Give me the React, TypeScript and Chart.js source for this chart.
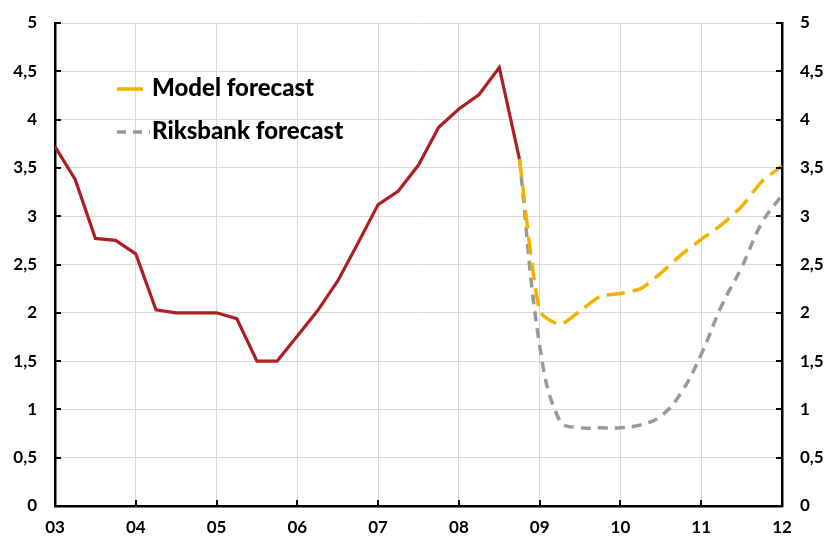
import React, { useEffect, useRef } from "react";
import { Chart, registerables } from "chart.js";

Chart.register(...registerables);

// Quarterly data, x index 0 = 2003Q1 ... 36 = 2012Q1
const xTickLabels = ["03", "04", "05", "06", "07", "08", "09", "10", "11", "12"];
const yTickLabels = ["0", "0,5", "1", "1,5", "2", "2,5", "3", "3,5", "4", "4,5", "5"];

// 2003Q1 - 2008Q4
const historyValues = [
  3.72, 3.38, 2.77, 2.75, 2.61, 2.03, 2.0, 2.0, 2.0, 1.94, 1.5, 1.5,
  1.76, 2.02, 2.33, 2.72, 3.12, 3.26, 3.53, 3.92, 4.11, 4.26, 4.54, 3.59,
];

// 2008Q4 - 2012Q1
const modelForecast = [3.59, 2.02, 1.88, 2.02, 2.17, 2.2, 2.25, 2.41, 2.6, 2.76, 2.91, 3.1, 3.36, 3.52];
const riksbankForecast = [3.59, 1.66, 0.88, 0.81, 0.81, 0.81, 0.84, 0.93, 1.17, 1.57, 2.07, 2.47, 2.93, 3.22];

const seriesNames = ["Model forecast", "Riksbank forecast"];

const RED = "#AD1F25";
const YELLOW = "#F2B200";
const GRAY = "#979A9C";
const GRID = "#D9D9D9";
const FONT = "Lato, 'Open Sans', sans-serif";

const forecastStart = historyValues.length - 1;

const insideTicksPlugin = {
  id: "insideTicks",
  afterDraw(chart: any) {
    const { ctx, chartArea } = chart;
    const y = chart.scales.y;
    const x = chart.scales.x;
    ctx.save();
    ctx.strokeStyle = "#000";
    ctx.lineWidth = 2;
    y.ticks.forEach((t: any) => {
      const py = Math.round(y.getPixelForValue(t.value));
      ctx.beginPath();
      ctx.moveTo(chartArea.left, py);
      ctx.lineTo(chartArea.left + 6, py);
      ctx.moveTo(chartArea.right, py);
      ctx.lineTo(chartArea.right - 6, py);
      ctx.stroke();
    });
    x.ticks.forEach((t: any) => {
      const px = Math.round(x.getPixelForValue(t.value));
      ctx.beginPath();
      ctx.moveTo(px, chartArea.bottom);
      ctx.lineTo(px, chartArea.bottom - 6);
      ctx.stroke();
    });
    ctx.restore();
  },
};

const legendPlugin = {
  id: "customLegend",
  afterDraw(chart: any) {
    const { ctx } = chart;
    ctx.save();
    ctx.font = `900 24px ${FONT}`;
    ctx.fillStyle = "#000";
    ctx.textBaseline = "middle";
    // Model forecast
    ctx.strokeStyle = YELLOW;
    ctx.lineWidth = 3.5;
    ctx.setLineDash([]);
    ctx.beginPath();
    ctx.moveTo(117, 89);
    ctx.lineTo(143, 89);
    ctx.stroke();
    ctx.fillText(seriesNames[0], 152, 88);
    // Riksbank forecast
    ctx.strokeStyle = GRAY;
    ctx.setLineDash([9, 7]);
    ctx.beginPath();
    ctx.moveTo(117, 132);
    ctx.lineTo(150, 132);
    ctx.stroke();
    ctx.setLineDash([]);
    ctx.fillText(seriesNames[1], 152, 131);
    ctx.restore();
  },
};

export default function App() {
  const canvasRef = useRef<HTMLCanvasElement | null>(null);

  useEffect(() => {
    document.body.style.margin = "0";
    const canvas = canvasRef.current;
    if (!canvas) return;

    const tickFont = { family: FONT, size: 17, weight: "bold" as const };

    const chart = new Chart(canvas, {
      type: "line",
      data: {
        datasets: [
          {
            label: "Repo rate",
            data: historyValues.map((v, i) => ({ x: i, y: v })),
            borderColor: RED,
            borderWidth: 3.2,
            pointRadius: 0,
            tension: 0,
            fill: false,
          },
          {
            label: seriesNames[0],
            data: modelForecast.map((v, i) => ({ x: forecastStart + i, y: v })),
            borderColor: YELLOW,
            borderWidth: 3.5,
            borderDash: [18, 8],
            pointRadius: 0,
            tension: 0.2,
            fill: false,
          },
          {
            label: seriesNames[1],
            data: riksbankForecast.map((v, i) => ({ x: forecastStart + i, y: v })),
            borderColor: GRAY,
            borderWidth: 3.5,
            borderDash: [10, 7],
            pointRadius: 0,
            tension: 0.4,
            fill: false,
          },
        ],
      },
      options: {
        responsive: false,
        animation: false,
        layout: { padding: { top: 23, right: 0, left: 0, bottom: 0 } },
        plugins: {
          legend: { display: false },
          tooltip: { enabled: false },
        },
        scales: {
          x: {
            type: "linear",
            min: 0,
            max: 36,
            position: "bottom",
            afterFit: (s: any) => {
              s.height = 30;
              s.paddingLeft = 0;
              s.paddingRight = 0;
            },
            ticks: {
              stepSize: 4,
              autoSkip: false,
              maxRotation: 0,
              padding: 11,
              color: "#000",
              font: tickFont,
              callback: (v: any) => xTickLabels[Math.round(Number(v) / 4)] ?? "",
            },
            grid: { color: GRID, lineWidth: 1, drawTicks: false },
            border: { color: "#000", width: 2.5 },
          },
          y: {
            type: "linear",
            min: 0,
            max: 5,
            position: "left",
            afterFit: (s: any) => {
              s.width = 55;
              s.paddingTop = 0;
              s.paddingBottom = 0;
            },
            ticks: {
              stepSize: 0.5,
              padding: 18,
              color: "#000",
              font: tickFont,
              callback: (v: any) => yTickLabels[Math.round(Number(v) * 2)] ?? "",
            },
            grid: { color: GRID, lineWidth: 1, drawTicks: false },
            border: { color: "#000", width: 2.5 },
          },
          y2: {
            type: "linear",
            min: 0,
            max: 5,
            position: "right",
            afterFit: (s: any) => {
              s.width = 43;
              s.paddingTop = 0;
              s.paddingBottom = 0;
            },
            ticks: {
              stepSize: 0.5,
              padding: 18,
              color: "#000",
              font: tickFont,
              callback: (v: any) => yTickLabels[Math.round(Number(v) * 2)] ?? "",
            },
            grid: { drawOnChartArea: false, drawTicks: false },
            border: { color: "#000", width: 2.5 },
          },
        },
      },
      plugins: [insideTicksPlugin, legendPlugin],
    });

    return () => chart.destroy();
  }, []);

  return (
    <div style={{ width: 825, height: 536, position: "relative", background: "#fff" }}>
      <canvas ref={canvasRef} width={825} height={536} style={{ display: "block" }} />
    </div>
  );
}
